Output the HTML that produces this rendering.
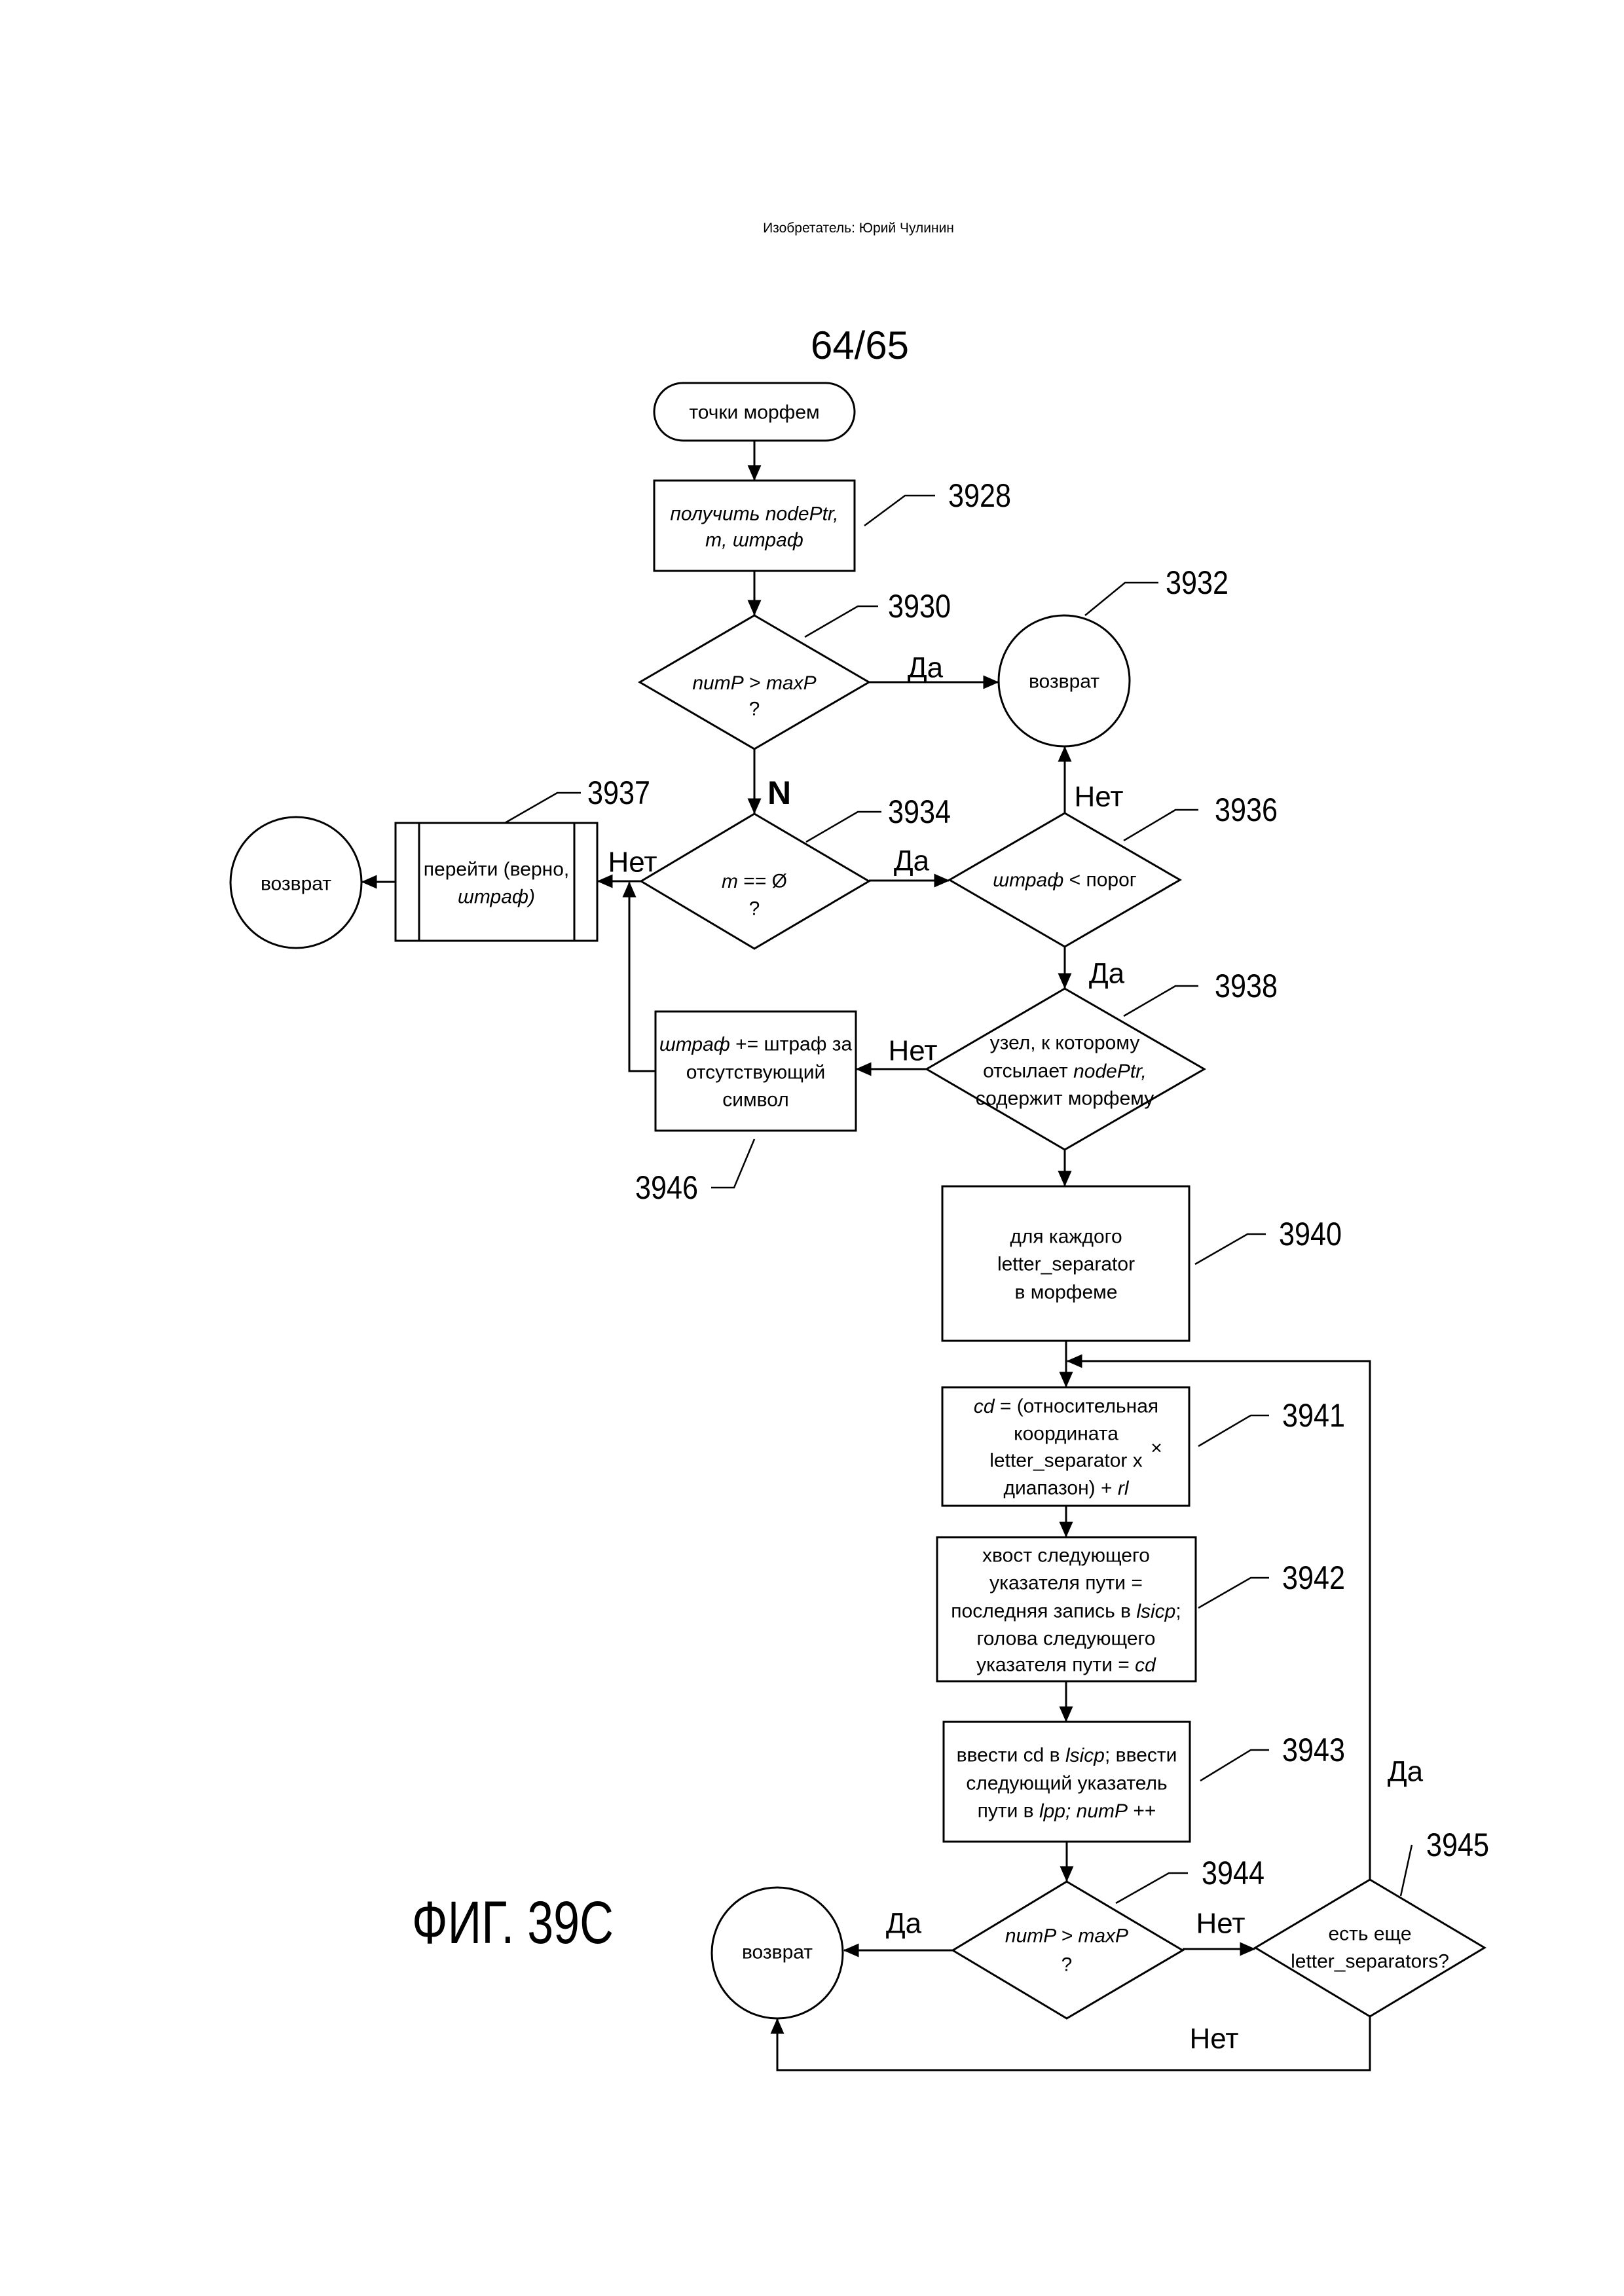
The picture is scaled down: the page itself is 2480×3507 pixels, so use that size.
<!DOCTYPE html>
<html><head><meta charset="utf-8"><style>
html,body{margin:0;padding:0;background:#fff}
svg{display:block}
text{font-family:"Liberation Sans Narrow","Liberation Sans",sans-serif;fill:#000}
</style></head><body>
<svg width="2480" height="3507" viewBox="0 0 2480 3507" xmlns="http://www.w3.org/2000/svg">
<defs>
<marker id="a" markerWidth="8" markerHeight="8" refX="7.5" refY="4" orient="auto" markerUnits="strokeWidth"><path d="M0,0.5 L8,4 L0,7.5 Z" fill="#000"/></marker>
</defs>
<rect width="2480" height="3507" fill="#fff"/>
<text x="1311" y="355" font-size="21" text-anchor="middle">Изобретатель: Юрий Чулинин</text>
<text x="1313" y="548" font-size="60" text-anchor="middle" textLength="150" lengthAdjust="spacingAndGlyphs">64/65</text>
<text x="629" y="2968" font-size="92" textLength="308" lengthAdjust="spacingAndGlyphs">ФИГ. 39C</text>

<g fill="none" stroke="#000" stroke-width="3">
<rect x="999" y="585" width="306" height="88" rx="44"/>
<rect x="999" y="734" width="306" height="138"/>
<polygon points="1152,940 1327,1042 1152,1144 977,1042"/>
<circle cx="1625" cy="1040" r="100"/>
<polygon points="1152,1243 1327,1346 1152,1449 979,1346"/>
<polygon points="1626,1242 1802,1344 1626,1446 1450,1344"/>
<rect x="604" y="1257" width="308" height="180"/>
<line x1="640" y1="1257" x2="640" y2="1437"/>
<line x1="877" y1="1257" x2="877" y2="1437"/>
<circle cx="452" cy="1348" r="100"/>
<rect x="1001" y="1545" width="306" height="182"/>
<polygon points="1626,1510 1839,1633 1626,1756 1415,1633"/>
<rect x="1439" y="1812" width="377" height="236"/>
<rect x="1439" y="2119" width="377" height="181"/>
<rect x="1431" y="2348" width="395" height="220"/>
<rect x="1441" y="2630" width="376" height="183"/>
<polygon points="1629,2874 1806,2979 1629,3083 1455,2979"/>
<circle cx="1187" cy="2983" r="100"/>
<polygon points="2092,2871 2267,2975 2092,3080 1917,2975"/>

<!-- connectors -->
<line x1="1152" y1="673" x2="1152" y2="733" marker-end="url(#a)"/>
<line x1="1152" y1="872" x2="1152" y2="939" marker-end="url(#a)"/>
<line x1="1327" y1="1042" x2="1524" y2="1042" marker-end="url(#a)"/>
<line x1="1152" y1="1144" x2="1152" y2="1242" marker-end="url(#a)"/>
<line x1="1327" y1="1345" x2="1449" y2="1345" marker-end="url(#a)"/>
<line x1="1626" y1="1242" x2="1626" y2="1141" marker-end="url(#a)"/>
<line x1="979" y1="1346" x2="913" y2="1346" marker-end="url(#a)"/>
<line x1="604" y1="1347" x2="553" y2="1347" marker-end="url(#a)"/>
<line x1="1626" y1="1446" x2="1626" y2="1509" marker-end="url(#a)"/>
<line x1="1415" y1="1633" x2="1308" y2="1633" marker-end="url(#a)"/>
<polyline points="1001,1636 961,1636 961,1348" marker-end="url(#a)"/>
<line x1="1626" y1="1756" x2="1626" y2="1811" marker-end="url(#a)"/>
<line x1="1628" y1="2048" x2="1628" y2="2118" marker-end="url(#a)"/>
<polyline points="2092,2871 2092,2079 1630,2079" marker-end="url(#a)"/>
<line x1="1628" y1="2300" x2="1628" y2="2347" marker-end="url(#a)"/>
<line x1="1628" y1="2568" x2="1628" y2="2629" marker-end="url(#a)"/>
<line x1="1629" y1="2813" x2="1629" y2="2873" marker-end="url(#a)"/>
<line x1="1455" y1="2979" x2="1289" y2="2979" marker-end="url(#a)"/>
<line x1="1806" y1="2977" x2="1916" y2="2977" marker-end="url(#a)"/>
<polyline points="2092,3080 2092,3162 1187,3162 1187,3084" marker-end="url(#a)"/>

<!-- leaders -->
<polyline stroke-width="2.5" points="1320,803 1382,757 1428,757"/>
<polyline stroke-width="2.5" points="1229,973 1310,926 1341,926"/>
<polyline stroke-width="2.5" points="1657,940 1718,890 1769,890"/>
<polyline stroke-width="2.5" points="1231,1286 1310,1240 1346,1240"/>
<polyline stroke-width="2.5" points="1716,1284 1795,1237 1830,1237"/>
<polyline stroke-width="2.5" points="771,1257 851,1211 887,1211"/>
<polyline stroke-width="2.5" points="1716,1552 1795,1506 1830,1506"/>
<polyline stroke-width="2.5" points="1152,1740 1121,1814 1086,1814"/>
<polyline stroke-width="2.5" points="1825,1931 1905,1885 1933,1885"/>
<polyline stroke-width="2.5" points="1830,2209 1910,2162 1938,2162"/>
<polyline stroke-width="2.5" points="1830,2456 1910,2410 1938,2410"/>
<polyline stroke-width="2.5" points="1833,2720 1910,2673 1938,2673"/>
<polyline stroke-width="2.5" points="1704,2907 1785,2861 1814,2861"/>
<polyline stroke-width="2.5" points="2139,2896 2156,2818"/>
</g>

<g font-size="50" dominant-baseline="central">
<text x="1448" y="757" textLength="96" lengthAdjust="spacingAndGlyphs">3928</text>
<text x="1356" y="926" textLength="96" lengthAdjust="spacingAndGlyphs">3930</text>
<text x="1780" y="890" textLength="96" lengthAdjust="spacingAndGlyphs">3932</text>
<text x="1356" y="1240" textLength="96" lengthAdjust="spacingAndGlyphs">3934</text>
<text x="1855" y="1237" textLength="96" lengthAdjust="spacingAndGlyphs">3936</text>
<text x="897" y="1211" textLength="96" lengthAdjust="spacingAndGlyphs">3937</text>
<text x="1855" y="1506" textLength="96" lengthAdjust="spacingAndGlyphs">3938</text>
<text x="970" y="1814" textLength="96" lengthAdjust="spacingAndGlyphs">3946</text>
<text x="1953" y="1885" textLength="96" lengthAdjust="spacingAndGlyphs">3940</text>
<text x="1958" y="2162" textLength="96" lengthAdjust="spacingAndGlyphs">3941</text>
<text x="1958" y="2410" textLength="96" lengthAdjust="spacingAndGlyphs">3942</text>
<text x="1958" y="2673" textLength="96" lengthAdjust="spacingAndGlyphs">3943</text>
<text x="1835" y="2861" textLength="96" lengthAdjust="spacingAndGlyphs">3944</text>
<text x="2178" y="2818" textLength="96" lengthAdjust="spacingAndGlyphs">3945</text>
</g>

<g font-size="44" dominant-baseline="central" text-anchor="middle">
<text x="1413" y="1020">Да</text>
<text x="1190" y="1211" font-weight="bold" font-size="50">N</text>
<text x="1392" y="1315">Да</text>
<text x="1678" y="1217">Нет</text>
<text x="966" y="1317">Нет</text>
<text x="1690" y="1487">Да</text>
<text x="1394" y="1605">Нет</text>
<text x="2146" y="2706">Да</text>
<text x="1380" y="2938">Да</text>
<text x="1864" y="2938">Нет</text>
<text x="1854" y="3114">Нет</text>
</g>

<g font-size="30" dominant-baseline="central" text-anchor="middle">
<text x="1152" y="630">точки морфем</text>
<text x="1152" y="785" font-style="italic">получить nodePtr,</text>
<text x="1152" y="825" font-style="italic">m, штраф</text>
<text x="1152" y="1043"><tspan font-style="italic">numP</tspan> &gt; <tspan font-style="italic">maxP</tspan></text>
<text x="1152" y="1083">?</text>
<text x="1625" y="1041">возврат</text>
<text x="1152" y="1346"><tspan font-style="italic">m</tspan> == Ø</text>
<text x="1152" y="1388">?</text>
<text x="1626" y="1344"><tspan font-style="italic">штраф</tspan> &lt; порог</text>
<text x="758" y="1328">перейти (верно,</text>
<text x="758" y="1370" font-style="italic">штраф)</text>
<text x="452" y="1350">возврат</text>
<text x="1154" y="1595"><tspan font-style="italic">штраф</tspan> += штраф за</text>
<text x="1154" y="1638">отсутствующий</text>
<text x="1154" y="1680">символ</text>
<text x="1626" y="1593">узел, к которому</text>
<text x="1626" y="1636">отсылает <tspan font-style="italic">nodePtr,</tspan></text>
<text x="1626" y="1678">содержит морфему</text>
<text x="1628" y="1889">для каждого</text>
<text x="1628" y="1931">letter_separator</text>
<text x="1628" y="1974">в морфеме</text>
<text x="1628" y="2148"><tspan font-style="italic">cd</tspan> = (относительная</text>
<text x="1628" y="2190">координата</text>
<text x="1628" y="2231">letter_separator x</text>
<text x="1628" y="2273">диапазон) + <tspan font-style="italic">rl</tspan></text>
<text x="1766" y="2212">×</text>
<text x="1628" y="2376">хвост следующего</text>
<text x="1628" y="2418">указателя пути =</text>
<text x="1628" y="2461">последняя запись в <tspan font-style="italic">lsicp</tspan>;</text>
<text x="1628" y="2503">голова следующего</text>
<text x="1628" y="2543">указателя пути = <tspan font-style="italic">cd</tspan></text>
<text x="1629" y="2681">ввести cd в <tspan font-style="italic">lsicp</tspan>; ввести</text>
<text x="1629" y="2724">следующий указатель</text>
<text x="1629" y="2766">пути в <tspan font-style="italic">lpp; numP</tspan> ++</text>
<text x="1629" y="2957" font-style="italic">numP &gt; maxP</text>
<text x="1629" y="3001">?</text>
<text x="1187" y="2982">возврат</text>
<text x="2092" y="2954">есть еще</text>
<text x="2092" y="2996">letter_separators?</text>
</g>
</svg>
</body></html>
